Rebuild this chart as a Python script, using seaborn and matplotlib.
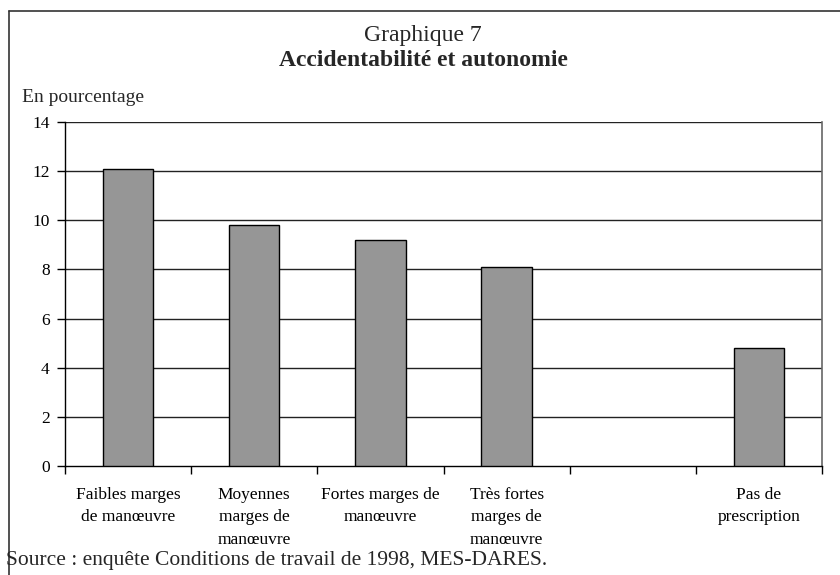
import numpy as np
import pandas as pd
import seaborn as sns
import matplotlib
matplotlib.use("Agg")
import matplotlib.pyplot as plt
from matplotlib.lines import Line2D

categories = ["Faibles marges\nde manœuvre",
              "Moyennes\nmarges de\nmanœuvre",
              "Fortes marges de\nmanœuvre",
              "Très fortes\nmarges de\nmanœuvre",
              " ",
              "Pas de\nprescription"]
values = [12.1, 9.8, 9.2, 8.1, np.nan, 4.8]
yticks = [0, 2, 4, 6, 8, 10, 12, 14]

sns.set_theme(style="white")
plt.rcParams["font.family"] = ["Liberation Serif", "DejaVu Serif"]

df = pd.DataFrame({"cat": categories, "val": values})

fig = plt.figure(figsize=(8.4, 5.75), dpi=100)
ax = fig.add_axes([65/840, 1-466/575, (822-65)/840, (466-122)/575])

sns.barplot(data=df, x="cat", y="val", order=categories, color="#969696",
            saturation=1, width=0.4, edgecolor="black", linewidth=1, ax=ax, zorder=3)

ax.set_xlim(-0.5, len(categories) - 0.5)
ax.set_ylim(0, 14)
ax.set_yticks(yticks)
ax.set_yticklabels([str(t) for t in yticks], fontsize=12.5, color="black")
for t in yticks[1:]:
    ax.axhline(t, color="#222222", lw=1, zorder=1)

ax.set_xticks(np.arange(-0.5, len(categories), 1.0))
ax.set_xticklabels([])
ax.set_xticks(np.arange(len(categories)), minor=True)
ax.set_xticklabels(categories, minor=True, fontsize=12.5, linespacing=1.55, color="black")
ax.tick_params(axis="x", which="major", direction="out", length=6, width=1, color="black", bottom=True)
ax.tick_params(axis="x", which="minor", length=0, pad=15)
ax.tick_params(axis="y", direction="out", length=6, width=1, color="black", left=True, pad=5)

ax.set_xlabel("")
ax.set_ylabel("")
for s in ["left", "bottom"]:
    ax.spines[s].set_color("black")
    ax.spines[s].set_linewidth(1)
ax.spines["top"].set_visible(False)
ax.spines["right"].set_color("#666666")
ax.spines["right"].set_linewidth(1.2)

fig.text(423/840, 1-35/575, "Graphique 7", ha="center", va="center", fontsize=17)
fig.text(423/840, 1-60/575, "Accidentabilité et autonomie", ha="center", va="center",
         fontsize=17, fontweight="bold")
fig.text(22/840, 1-97/575, "En pourcentage", ha="left", va="center", fontsize=14)
fig.text(6/840, 1-561/575, "Source : enquête Conditions de travail de 1998, MES-DARES.",
         ha="left", va="center", fontsize=15.5)

fig.add_artist(Line2D([9/840, 9/840], [0, 1-11/575], color="#333333", lw=1.2,
                      transform=fig.transFigure))
fig.add_artist(Line2D([9/840, 1], [1-11/575, 1-11/575], color="#333333", lw=1.2,
                      transform=fig.transFigure))

fig.savefig("out.png", dpi=100)
